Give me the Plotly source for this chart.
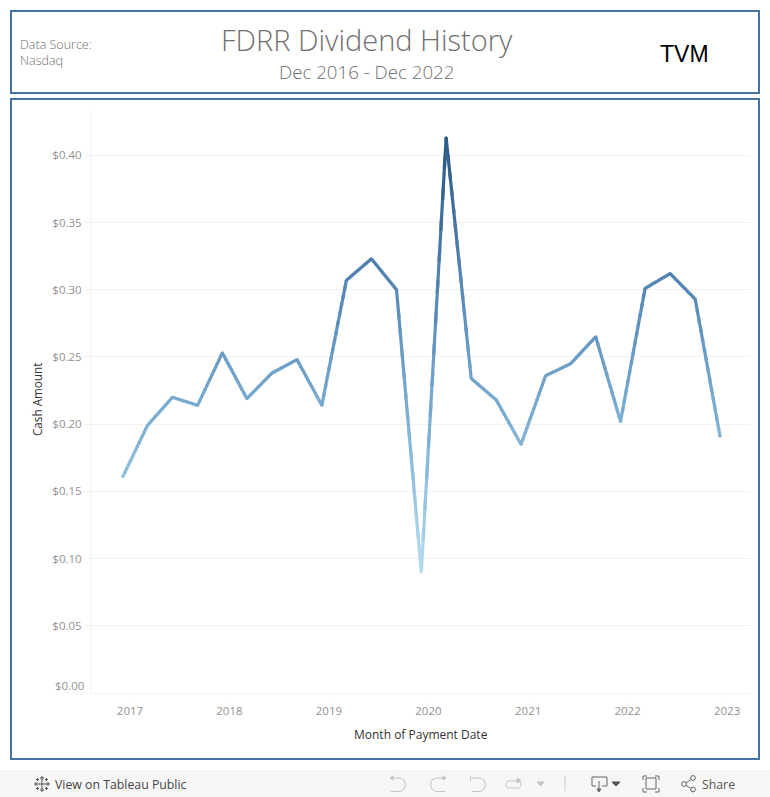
import plotly.graph_objects as go
import pandas as pd

dates = ["2016-12-06","2017-03-06","2017-06-06","2017-09-06","2017-12-06","2018-03-06","2018-06-06","2018-09-06","2018-12-06",
         "2019-03-06","2019-06-06","2019-09-06","2019-12-06","2020-03-06","2020-06-06","2020-09-06","2020-12-06",
         "2021-03-06","2021-06-06","2021-09-06","2021-12-06","2022-03-06","2022-06-06","2022-09-06","2022-12-06"]
cash = [0.161,0.199,0.220,0.214,0.253,0.219,0.238,0.248,0.214,0.307,0.323,0.300,0.090,0.413,0.234,0.218,0.185,
        0.236,0.245,0.265,0.202,0.301,0.312,0.293,0.191]
y_ticks = [0.05,0.10,0.15,0.20,0.25,0.30,0.35,0.40]
y_labels = ["$0.05","$0.10","$0.15","$0.20","$0.25","$0.30","$0.35","$0.40"]
x_ticks = ["2017-01-01","2018-01-01","2019-01-01","2020-01-01","2021-01-01","2022-01-01","2023-01-01"]
x_labels = ["2017","2018","2019","2020","2021","2022","2023"]

FONT = "Open Sans"
W, H = 770, 797
PL, PR, PT, PB = 91, 750, 110, 693

stops = [(0.0,(0xb9,0xdd,0xf1)),(0.25,(0x8b,0xbc,0xdc)),(0.5,(0x6a,0x9c,0xc6)),(0.75,(0x4a,0x7a,0xaa)),(1.0,(0x2a,0x57,0x83))]
vmin, vmax = min(cash), max(cash)
def colour(v):
    t = (v-vmin)/(vmax-vmin)
    for (a,ca),(b,cb) in zip(stops, stops[1:]):
        if t <= b:
            f = (t-a)/(b-a)
            return "rgb(%d,%d,%d)" % tuple(round(p+(q-p)*f) for p,q in zip(ca,cb))
    return "rgb(42,87,131)"

ts = pd.to_datetime(dates)
fig = go.Figure()
# Tableau shades the line along its length, so each segment is painted in short overlapping colour steps
STEPS = 14
for i in range(len(cash)-1):
    for k in range(STEPS):
        f0, f1 = k/STEPS, min(1,(k+1.4)/STEPS)
        x0 = ts[i]+(ts[i+1]-ts[i])*f0; x1 = ts[i]+(ts[i+1]-ts[i])*f1
        y0 = cash[i]+(cash[i+1]-cash[i])*f0; y1 = cash[i]+(cash[i+1]-cash[i])*f1
        fig.add_trace(go.Scatter(x=[x0,x1], y=[y0,y1], mode="lines", showlegend=False, hoverinfo="skip",
                                 line=dict(color=colour((y0+y1)/2), width=3.2)))
fig.add_trace(go.Scatter(x=dates, y=cash, mode="markers", showlegend=False,
                         marker=dict(size=3.2, color=[colour(v) for v in cash], line=dict(width=0))))

def px(x): return (x-PL)/(PR-PL)
def py(y): return (PB-y)/(PB-PT)
def txt(x,y,s,size,color,anchor="left",weight=None,family=FONT,angle=0):
    fig.add_annotation(xref="paper",yref="paper",x=px(x),y=py(y),text=s,showarrow=False,xanchor=anchor,yanchor="middle",
                       textangle=angle,font=dict(size=size,color=color,family=family,weight=weight),borderpad=0,borderwidth=0)
def box(x0,y0,x1,y1,**kw):
    fig.add_shape(type="rect",xref="paper",yref="paper",x0=px(x0),x1=px(x1),y0=py(y0),y1=py(y1),**kw)
def stroke(points,color="#c4c4c4",width=1,fill=None):
    d = "M"+" L".join(f"{px(a):.5f},{py(b):.5f}" for a,b in points)
    if fill: d += " Z"
    fig.add_shape(type="path",xref="paper",yref="paper",path=d,line=dict(color=color,width=width),
                  fillcolor=fill if fill else "rgba(0,0,0,0)")
def circle(cx,cy,r,color="#666666"):
    fig.add_shape(type="circle",xref="paper",yref="paper",x0=px(cx-r),x1=px(cx+r),y0=py(cy-r),y1=py(cy+r),
                  line=dict(color=color,width=1))

BORDER = "#4472a6"
box(0,770,770,797,line=dict(width=0),fillcolor="#f6f6f6",layer="below")
box(11,11,759,93,line=dict(color=BORDER,width=2),fillcolor="rgba(0,0,0,0)")
box(11,99,759,759,line=dict(color=BORDER,width=2),fillcolor="rgba(0,0,0,0)")

txt(20,44,"Data Source:",12.5,"#6e6e6e",weight=300)
txt(20,61,"Nasdaq",12.5,"#6e6e6e",weight=300)
txt(366.5,40,"FDRR Dividend History",29,"#6f6f6f","center",weight=300)
txt(366.5,72,"Dec 2016 - Dec 2022",18.7,"#6f6f6f","center",weight=300)
txt(684,54,"TVM",23,"#000000","center",family="Liberation Sans")
txt(37,399,"Cash Amount",11.7,"#333333","center",angle=-90)
txt(420.5,734,"Month of Payment Date",12,"#333333","center")
txt(84,685,"$0.00",11.5,"#929292","right")
txt(55,784,"View on Tableau Public",12.3,"#444444")
txt(702,784,"Share",12.3,"#555555")

# toolbar icons
LOGO = "#555555"
for cx,cy,r in [(42,784,4.5),(36,784,2),(48,784,2),(42,778,2),(42,790,2),(37.5,779.5,1.5),(46.5,779.5,1.5),(37.5,788.5,1.5),(46.5,788.5,1.5)]:
    stroke([(cx-r,cy),(cx+r,cy)],LOGO); stroke([(cx,cy-r),(cx,cy+r)],LOGO)
stroke([(391,778),(400,778),(404,780),(405.5,785),(404,789),(400,791.5),(391,791.5)])
stroke([(390,778),(393,776),(393,780)],fill="#c4c4c4")
stroke([(445,778),(436,778),(432,780),(430.5,785),(432,789),(436,791.5),(445,791.5)])
stroke([(446,778),(443,776),(443,780)],fill="#c4c4c4")
stroke([(470.5,776),(470.5,781)])
stroke([(472,778),(480,778),(484,780),(485.5,785),(484,789),(480,791.5),(472,791.5)])
stroke([(518,781),(508,781),(506,783),(506,786),(508,788),(519,788),(521,786),(521,783),(519,781)])
stroke([(521,780.5),(517,778),(517,783)],fill="#c4c4c4")
stroke([(537,782),(544,782),(540.5,786)],fill="#c4c4c4")
stroke([(565,776),(565,791)],"#cccccc")
stroke([(596,786),(592,786),(592,777),(607,777),(607,786),(602,786)],"#666666")
stroke([(599,781),(599,791)],"#666666")
stroke([(597,789),(601,789),(599,792)],"#666666",fill="#666666")
stroke([(612,782),(620,782),(616,786)],"#555555",fill="#555555")
box(646,778,656,789,line=dict(color="#666666",width=1),fillcolor="rgba(0,0,0,0)")
stroke([(643,780),(643,776),(647,776)],"#666666"); stroke([(655,776),(659,776),(659,780)],"#666666")
stroke([(643,788),(643,792),(647,792)],"#666666"); stroke([(655,792),(659,792),(659,788)],"#666666")
stroke([(691,779.5),(686,783)],"#666666"); stroke([(686,785.5),(691,788.5)],"#666666")
circle(693,778,2.4); circle(684,784,2.4); circle(693,789.5,2.4)

fig.update_layout(width=W,height=H,autosize=False,margin=dict(l=PL,r=W-PR,t=PT,b=H-PB,pad=0),
    paper_bgcolor="white",plot_bgcolor="white",showlegend=False,
    xaxis=dict(type="date",range=["2016-08-11","2023-03-26"],tickvals=x_ticks,ticktext=x_labels,showgrid=False,
               ticks="outside",ticklen=4,tickcolor="#f0f0f0",showline=True,linecolor="#f2f2f2",linewidth=1,zeroline=False,
               minor=dict(ticks="outside",ticklen=2,tickcolor="#f5f5f5",dtick="M3",tick0="2017-01-01"),
               ticklabelstandoff=3,tickfont=dict(family=FONT,size=11.5,color="#929292")),
    yaxis=dict(range=[0,0.4337],tickvals=y_ticks,ticktext=y_labels,showgrid=True,gridcolor="#f2f2f2",gridwidth=1,
               ticks="outside",ticklen=6,tickcolor="#f2f2f2",showline=True,linecolor="#f2f2f2",linewidth=1,zeroline=False,
               ticklabelstandoff=0,tickfont=dict(family=FONT,size=11.5,color="#929292")))
fig.write_html("out.html",config=dict(displayModeBar=False),
               post_script="document.body.style.margin='0';document.body.style.overflow='hidden';")
